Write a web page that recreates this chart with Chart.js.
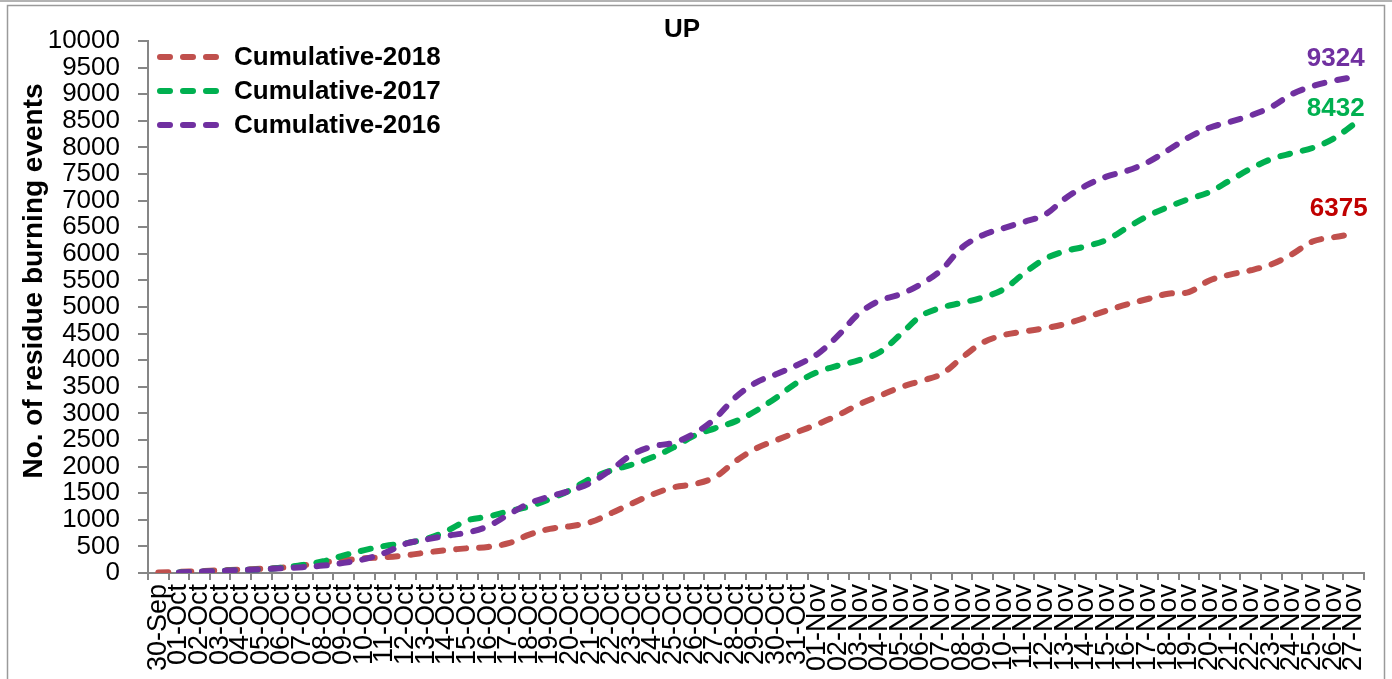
<!DOCTYPE html>
<html>
<head>
<meta charset="utf-8">
<script src="https://cdn.jsdelivr.net/npm/chart.js@4/dist/chart.umd.min.js"></script>
<style>
  html, body { margin: 0; padding: 0; background: #fff; }
  #wrap { width: 1392px; height: 679px; position: relative; }
</style>
</head>
<body>
<div id="wrap"><canvas id="chart" width="1392" height="679"></canvas></div>
<script>
// categories (30-Sep .. 27-Nov)
const dates = ['30-Sep',
  '01-Oct','02-Oct','03-Oct','04-Oct','05-Oct','06-Oct','07-Oct','08-Oct','09-Oct','10-Oct',
  '11-Oct','12-Oct','13-Oct','14-Oct','15-Oct','16-Oct','17-Oct','18-Oct','19-Oct','20-Oct',
  '21-Oct','22-Oct','23-Oct','24-Oct','25-Oct','26-Oct','27-Oct','28-Oct','29-Oct','30-Oct','31-Oct',
  '01-Nov','02-Nov','03-Nov','04-Nov','05-Nov','06-Nov','07-Nov','08-Nov','09-Nov','10-Nov',
  '11-Nov','12-Nov','13-Nov','14-Nov','15-Nov','16-Nov','17-Nov','18-Nov','19-Nov','20-Nov',
  '21-Nov','22-Nov','23-Nov','24-Nov','25-Nov','26-Nov','27-Nov'];

const cum2018 = [10, 20, 35, 50, 65, 80, 100, 140, 200, 240, 275,
  295, 330, 385, 430, 465, 490, 560, 720, 830, 880,
  960, 1130, 1310, 1480, 1610, 1670, 1800, 2100, 2340, 2500, 2650,
  2800, 2970, 3170, 3330, 3490, 3610, 3740, 4050, 4330, 4470,
  4540, 4600, 4680, 4800, 4930, 5050, 5150, 5250, 5280, 5500,
  5610, 5690, 5800, 5990, 6230, 6310, 6375];

const cum2017 = [null, 10, 20, 40, 55, 70, 100, 150, 220, 330, 430,
  510, 560, 640, 790, 990, 1060, 1160, 1250, 1390, 1560,
  1780, 1930, 2040, 2180, 2360, 2580, 2720, 2850, 3050, 3300, 3580,
  3780, 3900, 4000, 4150, 4480, 4830, 4990, 5080, 5180, 5330,
  5630, 5900, 6050, 6140, 6260, 6490, 6710, 6880, 7030, 7160,
  7380, 7600, 7780, 7890, 7990, 8160, 8432];

const cum2016 = [null, 10, 25, 40, 55, 70, 90, 110, 140, 190, 260,
  380, 550, 630, 700, 760, 880, 1100, 1310, 1440, 1550,
  1700, 1950, 2230, 2380, 2450, 2620, 2900, 3300, 3580, 3740, 3910,
  4120, 4470, 4880, 5120, 5240, 5430, 5700, 6120, 6350, 6480,
  6600, 6730, 7040, 7280, 7450, 7560, 7720, 7950, 8190, 8370,
  8480, 8600, 8760, 9000, 9150, 9250, 9324];

const seriesNames = ['Cumulative-2018', 'Cumulative-2017', 'Cumulative-2016'];
const lineColors = ['#c0504d', '#00b050', '#7030a0'];
const endLabelColors = ['#c00000', '#00b050', '#7030a0'];
const yTitle = 'No. of residue burning events';

const FONT = "'Liberation Sans', Arial, sans-serif";

// white background + outer frame
const framePlugin = {
  id: 'frame',
  beforeDraw(chart) {
    const ctx = chart.ctx;
    ctx.save();
    ctx.fillStyle = '#fff';
    ctx.fillRect(0, 0, chart.width, chart.height);
    ctx.strokeStyle = '#9a9a9a';
    ctx.lineWidth = 1.5;
    ctx.beginPath();
    ctx.moveTo(0, 1);
    ctx.lineTo(chart.width, 1);
    ctx.stroke();
    ctx.strokeRect(7.5, 5.5, 1377, chart.height + 10);
    ctx.restore();
  }
};

// legend inside the plot (dashed samples like the series), y title, end values
const annotatePlugin = {
  id: 'annotate',
  afterDraw(chart) {
    const ctx = chart.ctx;
    const area = chart.chartArea;
    ctx.save();

    // legend
    chart.data.datasets.forEach((ds, i) => {
      const y = area.top + 16 + i * 34;
      ctx.strokeStyle = ds.borderColor;
      ctx.lineWidth = ds.borderWidth;
      ctx.lineCap = 'round';
      ctx.setLineDash(ds.borderDash);
      ctx.beginPath();
      ctx.moveTo(area.left + 12, y);
      ctx.lineTo(area.left + 69, y);
      ctx.stroke();
      ctx.setLineDash([]);
      ctx.fillStyle = '#000';
      ctx.font = "bold 26px " + FONT;
      ctx.textAlign = 'left';
      ctx.textBaseline = 'middle';
      ctx.fillText(ds.label, area.left + 86, y + 1);
    });

    // y axis title
    ctx.save();
    ctx.translate(34, 281);
    ctx.rotate(-Math.PI / 2);
    ctx.font = "bold 28px " + FONT;
    ctx.textAlign = 'center';
    ctx.textBaseline = 'middle';
    ctx.fillStyle = '#000';
    ctx.fillText(yTitle, 0, 0);
    ctx.restore();

    // value at the end of each line (2018, 2017, 2016)
    const offsets = [[-15, -25], [-18, -16], [-18, -18]];
    ctx.font = "bold 26px " + FONT;
    ctx.textAlign = 'center';
    ctx.textBaseline = 'middle';
    chart.data.datasets.forEach((ds, i) => {
      const meta = chart.getDatasetMeta(i);
      const last = meta.data[meta.data.length - 1];
      ctx.fillStyle = endLabelColors[i];
      ctx.fillText(String(ds.data[ds.data.length - 1]), last.x + offsets[i][0], last.y + offsets[i][1]);
    });
    ctx.restore();
  }
};

const ctx = document.getElementById('chart').getContext('2d');
new Chart(ctx, {
  type: 'line',
  data: {
    labels: dates,
    datasets: [cum2018, cum2017, cum2016].map((vals, i) => ({
      label: seriesNames[i],
      data: vals,
      borderColor: lineColors[i],
      backgroundColor: lineColors[i],
      borderWidth: 6,
      borderDash: [10, 13],
      borderCapStyle: 'round',
      pointRadius: 0,
      tension: 0.35,
      fill: false,
      order: 2 - i
    }))
  },
  options: {
    responsive: false,
    animation: false,
    layout: { padding: { left: 0, right: 28, top: 0, bottom: 0 } },
    plugins: {
      title: {
        display: true,
        text: 'UP',
        color: '#000',
        font: { family: FONT, size: 26, weight: 'bold', lineHeight: 1 },
        padding: { top: 17, bottom: -2 }
      },
      legend: { display: false },
      tooltip: { enabled: false }
    },
    scales: {
      x: {
        offset: true,
        grid: { offset: true, drawOnChartArea: false, drawTicks: true, tickLength: 7, color: '#868686', lineWidth: 2 },
        border: { color: '#868686', width: 2 },
        ticks: {
          autoSkip: false,
          minRotation: 90,
          maxRotation: 90,
          padding: 4,
          color: '#000',
          font: { family: FONT, size: 27 }
        },
        afterFit(scale) { scale.height = 106; }
      },
      y: {
        min: 0,
        max: 10000,
        grid: { drawOnChartArea: false, drawTicks: true, tickLength: 10, color: '#868686', lineWidth: 2 },
        border: { color: '#868686', width: 2 },
        ticks: {
          stepSize: 500,
          autoSkip: false,
          padding: 18,
          color: '#000',
          font: { family: FONT, size: 26, lineHeight: 1 },
          callback: (v) => String(v)
        },
        afterFit(scale) { scale.width = 148; }
      }
    }
  },
  plugins: [framePlugin, annotatePlugin]
});
</script>
</body>
</html>
